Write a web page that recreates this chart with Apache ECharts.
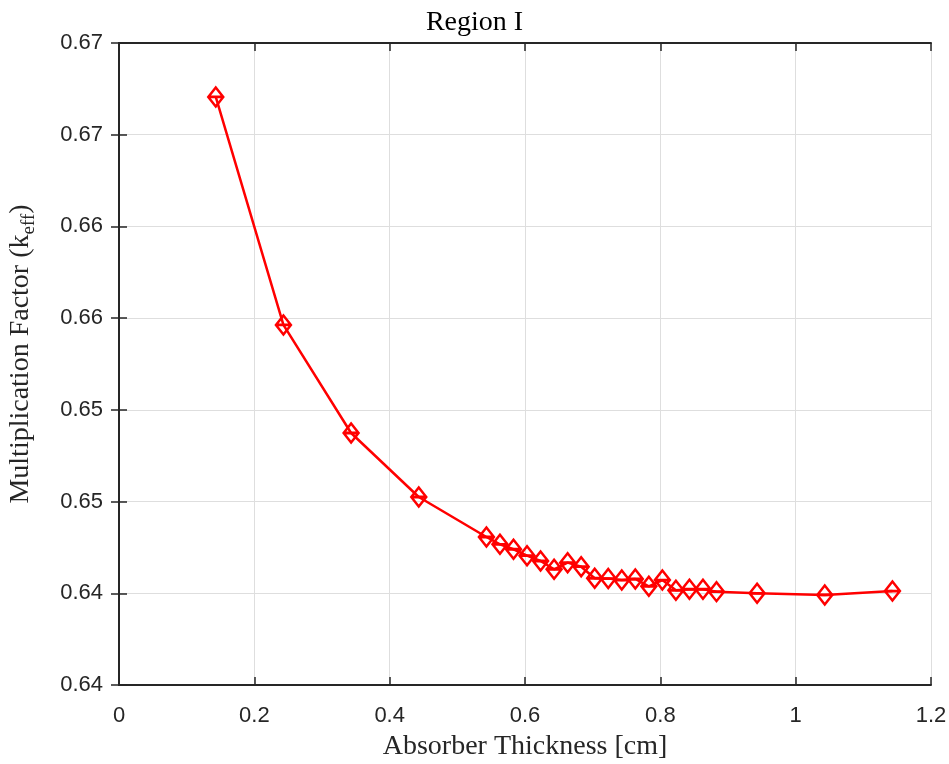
<!DOCTYPE html>
<html>
<head>
<meta charset="utf-8">
<script src="https://cdn.jsdelivr.net/npm/echarts@6/dist/echarts.min.js"></script>
<style>html,body{margin:0;padding:0;background:#fff;}#chart{width:949px;height:764px;}</style>
</head>
<body>
<div id="chart"></div>
<script>
const thickness = [0.143, 0.243, 0.343, 0.443, 0.543, 0.563, 0.583, 0.603, 0.623, 0.643, 0.663, 0.683, 0.703, 0.723, 0.743, 0.763, 0.783, 0.803, 0.823, 0.843, 0.863, 0.883, 0.943, 1.043, 1.143];
const keff = [0.66706, 0.65463, 0.64874, 0.64525, 0.64307, 0.64267, 0.64240, 0.64205, 0.64176, 0.64131, 0.64167, 0.64145, 0.64082, 0.64080, 0.64072, 0.64078, 0.64038, 0.64072, 0.64016, 0.64022, 0.64022, 0.64009, 0.64000, 0.63991, 0.64012];
const xTicks = [0, 0.2, 0.4, 0.6, 0.8, 1, 1.2];
const yTickLabels = ['0.64', '0.64', '0.65', '0.65', '0.66', '0.66', '0.67', '0.67'];
const yMin = 0.635, yStep = 0.005, yMax = 0.670;

const axisColor = '#262626';
const gridColor = '#dedede';
const data = thickness.map((x, i) => [x, keff[i]]);

const chart = echarts.init(document.getElementById('chart'), null, {renderer: 'canvas'});
chart.setOption({
  animation: false,
  backgroundColor: '#fff',
  title: {
    text: 'Region I', left: 'center', top: 4,
    textStyle: {fontFamily: 'Liberation Serif', fontSize: 28, fontWeight: 'normal', color: '#000'}
  },
  grid: {left: 119, right: 18, top: 43, bottom: 79, containLabel: false, outerBoundsMode: 'none'},
  xAxis: [{
    type: 'value', min: 0, max: 1.2, interval: 0.2, position: 'bottom',
    name: 'Absorber Thickness [cm]', nameLocation: 'middle', nameGap: 48,
    nameTextStyle: {fontFamily: 'Liberation Serif', fontSize: 28, color: axisColor},
    axisLine: {show: true, lineStyle: {color: axisColor, width: 2}},
    axisTick: {show: true, inside: true, length: 8, lineStyle: {color: axisColor, width: 1.5}},
    axisLabel: {margin: 20, fontFamily: 'Liberation Sans', fontSize: 22, color: axisColor,
      formatter: v => { const t = xTicks.find(t => Math.abs(t - v) < 1e-9); return t === undefined ? '' : String(t); }},
    splitLine: {show: true, lineStyle: {color: gridColor, width: 1}}
  }, {
    type: 'value', min: 0, max: 1.2, interval: 0.2, position: 'top',
    axisLine: {show: true, lineStyle: {color: axisColor, width: 2}},
    axisTick: {show: true, inside: true, length: 8, lineStyle: {color: axisColor, width: 1.5}},
    axisLabel: {show: false}, splitLine: {show: false}
  }],
  yAxis: [{
    type: 'value', min: yMin, max: yMax, interval: yStep, position: 'left',
    name: 'Multiplication Factor (k{sub|eff})', nameLocation: 'middle', nameGap: 80, nameRotate: 90,
    nameTextStyle: {fontFamily: 'Liberation Serif', fontSize: 28, color: axisColor, lineHeight: 36,
      padding: [0, 0, 0, 20],
      rich: {sub: {fontFamily: 'Liberation Serif', fontSize: 19, lineHeight: 19, verticalAlign: 'bottom', color: axisColor}}},
    axisLine: {show: true, lineStyle: {color: axisColor, width: 2}},
    axisTick: {show: true, inside: true, length: 8, lineStyle: {color: axisColor, width: 1.5}},
    axisLabel: {margin: 16, fontFamily: 'Liberation Sans', fontSize: 22, color: axisColor,
      formatter: v => yTickLabels[Math.round((v - yMin) / yStep)] || ''},
    splitLine: {show: true, lineStyle: {color: gridColor, width: 1}}
  }, {
    type: 'value', min: yMin, max: yMax, interval: yStep, position: 'right',
    axisLine: {show: true, lineStyle: {color: axisColor, width: 2}},
    axisTick: {show: true, inside: true, length: 8, lineStyle: {color: axisColor, width: 1.5}},
    axisLabel: {show: false}, splitLine: {show: false}
  }],
  series: [{
    type: 'line', xAxisIndex: 0, yAxisIndex: 0, data: data,
    lineStyle: {color: '#ff0000', width: 2.5},
    symbol: 'path://M0,-1 L1,0 L0,1 L-1,0 Z M-1,0 L1,0',
    symbolSize: [15, 19], symbolKeepAspect: false,
    itemStyle: {color: 'rgba(255,255,255,0)', borderColor: '#ff0000', borderWidth: 2.5},
    z: 3
  }]
});
</script>
</body>
</html>
